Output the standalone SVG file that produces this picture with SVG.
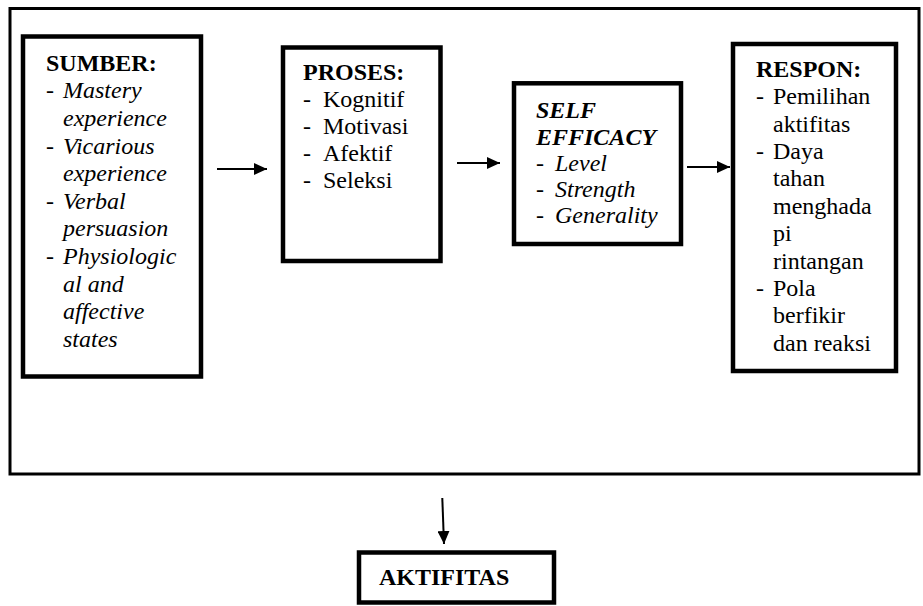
<svg xmlns="http://www.w3.org/2000/svg" width="923" height="606" viewBox="0 0 923 606" font-family="Liberation Serif, Times New Roman, serif" font-size="24">
<style>
.box{fill:#fff;stroke:#000;stroke-width:4.5}
.outer{fill:#fff;stroke:#000;stroke-width:3}
text{fill:#000}
.b{font-weight:bold}
.i{font-style:italic}
.bi{font-weight:bold;font-style:italic}
.conn{stroke:#000;stroke-width:2;fill:none}
</style>
<defs>
<marker id="ah" markerWidth="13" markerHeight="12" refX="13" refY="6" orient="auto" markerUnits="userSpaceOnUse">
<path d="M0,0 L13,6 L0,12 Z" fill="#000"/>
</marker>
</defs>
<rect class="outer" x="10" y="8.5" width="909" height="465.5"/>
<g id="sumber">
<rect class="box" x="23" y="36.5" width="178" height="340"/>
<text class="b" x="46" y="70.7">SUMBER:</text>
<text x="46" y="98.3">-</text><text class="i" x="63" y="98.3">Mastery</text>
<text class="i" x="63" y="125.9">experience</text>
<text x="46" y="153.5">-</text><text class="i" x="63" y="153.5">Vicarious</text>
<text class="i" x="63" y="181.1">experience</text>
<text x="46" y="208.7">-</text><text class="i" x="63" y="208.7">Verbal</text>
<text class="i" x="63" y="236.3">persuasion</text>
<text x="46" y="263.9">-</text><text class="i" x="63" y="263.9">Physiologic</text>
<text class="i" x="63" y="291.5">al and</text>
<text class="i" x="63" y="319.1">affective</text>
<text class="i" x="63" y="346.7">states</text>
</g>
<g id="proses">
<rect class="box" x="283" y="47.5" width="157.5" height="213.5"/>
<text class="b" x="303" y="80">PROSES:</text>
<text x="303" y="107">-</text><text x="323" y="107">Kognitif</text>
<text x="303" y="134">-</text><text x="323" y="134">Motivasi</text>
<text x="303" y="161">-</text><text x="323" y="161">Afektif</text>
<text x="303" y="188">-</text><text x="323" y="188">Seleksi</text>
</g>
<g id="selfefficacy">
<rect class="box" x="514" y="83.3" width="167" height="160.7"/>
<text class="bi" x="536" y="118">SELF</text>
<text class="bi" x="536" y="144.5">EFFICACY</text>
<text x="536" y="170.7">-</text><text class="i" x="555" y="170.7">Level</text>
<text x="536" y="197">-</text><text class="i" x="555" y="197">Strength</text>
<text x="536" y="223">-</text><text class="i" x="555" y="223">Generality</text>
</g>
<g id="respon">
<rect class="box" x="733" y="44" width="163" height="327"/>
<text class="b" x="756" y="76.7">RESPON:</text>
<text x="756" y="104.1">-</text><text x="773" y="104.1">Pemilihan</text>
<text x="773" y="131.5">aktifitas</text>
<text x="756" y="158.9">-</text><text x="773" y="158.9">Daya</text>
<text x="773" y="186.3">tahan</text>
<text x="773" y="213.7">menghada</text>
<text x="773" y="241.1">pi</text>
<text x="773" y="268.5">rintangan</text>
<text x="756" y="295.9">-</text><text x="773" y="295.9">Pola</text>
<text x="773" y="323.3">berfikir</text>
<text x="773" y="350.7">dan reaksi</text>
</g>
<g id="aktifitas">
<rect class="box" x="359" y="552.5" width="195" height="50"/>
<text class="b" x="379" y="585">AKTIFITAS</text>
</g>
<g id="connectors">
<line class="conn" x1="217" y1="169" x2="267" y2="169" marker-end="url(#ah)"/>
<line class="conn" x1="457" y1="163" x2="500" y2="163" marker-end="url(#ah)"/>
<line class="conn" x1="687" y1="167" x2="730" y2="167" marker-end="url(#ah)"/>
<line class="conn" x1="442.3" y1="498" x2="444" y2="544" marker-end="url(#ah)"/>
</g>
</svg>
